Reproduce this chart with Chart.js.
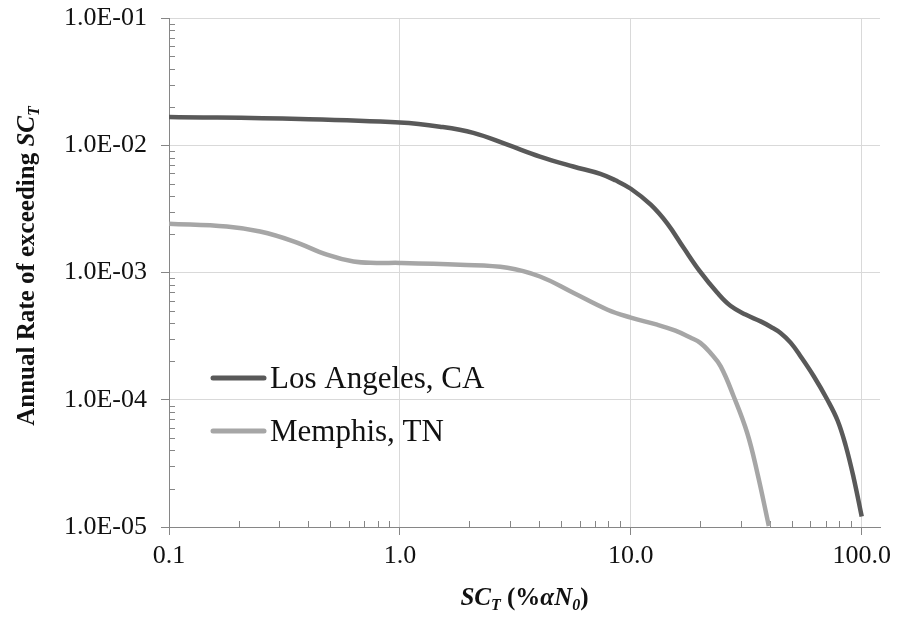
<!DOCTYPE html>
<html>
<head>
<meta charset="utf-8">
<script src="https://cdn.jsdelivr.net/npm/chart.js@4.4.1/dist/chart.umd.min.js"></script>
<style>
  html, body { margin: 0; padding: 0; background: #fff; }
</style>
</head>
<body>
<canvas id="hazardChart" width="899" height="617"></canvas>
<script>
const seriesNames = ['Los Angeles, CA', 'Memphis, TN'];

// Los Angeles, CA
const laX = [0.1, 0.37, 1.0, 1.49, 2.08, 2.92, 4.04, 5.63, 7.38, 8.58, 10.0, 12.2, 14.4, 16.9, 20.0, 23.7, 27.0, 31.4, 36.5, 40.3, 44.5, 49.2, 54.4, 62.0, 71.0, 78.6, 85.2, 92.2, 100.0];
const laY = [1.67e-2, 1.61e-2, 1.51e-2, 1.40e-2, 1.25e-2, 1.01e-2, 8.15e-3, 6.81e-3, 5.96e-3, 5.30e-3, 4.55e-3, 3.41e-3, 2.42e-3, 1.57e-3, 1.01e-3, 6.93e-4, 5.48e-4, 4.67e-4, 4.13e-4, 3.75e-4, 3.35e-4, 2.81e-4, 2.19e-4, 1.53e-4, 1.00e-4, 6.87e-5, 4.37e-5, 2.45e-5, 1.21e-5];

// Memphis, TN
const mmX = [0.1, 0.178, 0.248, 0.346, 0.483, 0.630, 0.794, 1.0, 1.82, 2.92, 4.04, 5.63, 7.93, 10.0, 13.0, 15.6, 18.1, 20.0, 22.1, 24.5, 27.9, 31.9, 35.3, 39.6];
const mmY = [2.42e-3, 2.30e-3, 2.10e-3, 1.76e-3, 1.38e-3, 1.22e-3, 1.19e-3, 1.19e-3, 1.15e-3, 1.09e-3, 9.3e-4, 6.93e-4, 5.10e-4, 4.42e-4, 3.89e-4, 3.49e-4, 3.08e-4, 2.80e-4, 2.34e-4, 1.83e-4, 1.06e-4, 5.5e-5, 2.67e-5, 1.02e-5];

const xTicks = [0.1, 1, 10, 100];
const xTickLabels = ['0.1', '1.0', '10.0', '100.0'];
const yTicks = [1e-5, 1e-4, 1e-3, 1e-2, 1e-1];
const yTickLabels = ['1.0E-05', '1.0E-04', '1.0E-03', '1.0E-02', '1.0E-01'];

const SERIF = "'Liberation Serif', 'Times New Roman', serif";
const AXIS_GRAY = '#868686';

function toPoints(xs, ys) {
    return xs.map((x, i) => ({ x: x, y: ys[i] }));
}

function drawRich(ctx, parts, x, y) {
    let total = 0;
    parts.forEach(p => {
        ctx.font = p.font;
        p.w = ctx.measureText(p.text).width;
        total += p.w;
    });
    let cx = x - total / 2;
    parts.forEach(p => {
        ctx.font = p.font;
        ctx.fillText(p.text, cx, y + (p.dy || 0));
        cx += p.w;
    });
}

const decorPlugin = {
    id: 'decor',
    beforeDatasetsDraw(chart) {
        const ctx = chart.ctx;
        const area = chart.chartArea;
        const xs = chart.scales.x, ys = chart.scales.y;
        ctx.save();
        ctx.strokeStyle = AXIS_GRAY;
        ctx.lineWidth = 1;
        ctx.beginPath();
        // minor ticks on the y axis (inside)
        yTicks.slice(0, -1).forEach(d => {
            for (let m = 2; m <= 9; m++) {
                const py = Math.round(ys.getPixelForValue(d * m)) + 0.5;
                ctx.moveTo(area.left, py);
                ctx.lineTo(area.left + 6, py);
            }
        });
        // minor ticks on the x axis (inside)
        xTicks.forEach(d => {
            for (let m = 2; m <= 9; m++) {
                if (d * m > xs.max) break;
                const px = Math.round(xs.getPixelForValue(d * m)) + 0.5;
                ctx.moveTo(px, area.bottom);
                ctx.lineTo(px, area.bottom - 6);
            }
        });
        ctx.stroke();
        ctx.restore();
    },
    afterDraw(chart) {
        const ctx = chart.ctx;
        const area = chart.chartArea;
        ctx.save();

        // legend inside plot
        const rows = [378, 431];
        chart.data.datasets.forEach((ds, i) => {
            const y = rows[i];
            ctx.strokeStyle = ds.borderColor;
            ctx.lineWidth = 5;
            ctx.lineCap = 'round';
            ctx.beginPath();
            ctx.moveTo(area.left + 44, y);
            ctx.lineTo(area.left + 95, y);
            ctx.stroke();
            ctx.fillStyle = '#111';
            ctx.font = '31px ' + SERIF;
            ctx.textAlign = 'left';
            ctx.textBaseline = 'alphabetic';
            ctx.fillText(ds.label, area.left + 101, y + 10);
        });

        // axis titles
        ctx.fillStyle = '#111';
        ctx.textAlign = 'left';
        ctx.textBaseline = 'alphabetic';
        const big = 'bold 25px ' + SERIF;
        const bigIt = 'bold italic 25px ' + SERIF;
        const sub = 'bold italic 16px ' + SERIF;

        drawRich(ctx, [
            { text: 'SC', font: bigIt },
            { text: 'T', font: sub, dy: 5 },
            { text: ' (%', font: big },
            { text: 'α', font: bigIt },
            { text: 'N', font: bigIt },
            { text: '0', font: sub, dy: 5 },
            { text: ')', font: big }
        ], (area.left + area.right) / 2, 605);

        ctx.save();
        ctx.translate(34, 266);
        ctx.rotate(-Math.PI / 2);
        drawRich(ctx, [
            { text: 'Annual Rate of exceeding ', font: big },
            { text: 'SC', font: bigIt },
            { text: 'T', font: sub, dy: 5 }
        ], 0, 0);
        ctx.restore();

        ctx.restore();
    }
};

const ctx = document.getElementById('hazardChart').getContext('2d');
const hazardChart = new Chart(ctx, {
    type: 'line',
    data: {
        datasets: [
            {
                label: seriesNames[0],
                data: toPoints(laX, laY),
                borderColor: '#595959',
                borderWidth: 4.5,
                pointRadius: 0,
                tension: 0.4,
                fill: false
            },
            {
                label: seriesNames[1],
                data: toPoints(mmX, mmY),
                borderColor: '#a6a6a6',
                borderWidth: 4.5,
                pointRadius: 0,
                tension: 0.4,
                fill: false
            }
        ]
    },
    options: {
        responsive: false,
        animation: false,
        layout: { padding: { top: 18, right: 19, left: 0, bottom: 0 } },
        plugins: {
            legend: { display: false },
            tooltip: { enabled: false }
        },
        scales: {
            x: {
                type: 'logarithmic',
                min: 0.1,
                max: 120,
                afterBuildTicks: scale => { scale.ticks = xTicks.map(v => ({ value: v })); },
                afterFit: scale => {
                    scale.height = 90;
                    scale.paddingLeft = 0;
                    scale.paddingRight = 0;
                },
                ticks: {
                    autoSkip: false,
                    maxRotation: 0,
                    padding: 6,
                    color: '#111',
                    font: { family: SERIF, size: 26 },
                    callback: (v, i) => xTickLabels[i]
                },
                grid: { color: '#d9d9d9', tickColor: AXIS_GRAY, tickLength: 8, lineWidth: 1 },
                border: { color: AXIS_GRAY, width: 1 }
            },
            y: {
                type: 'logarithmic',
                min: 1e-5,
                max: 1e-1,
                afterBuildTicks: scale => { scale.ticks = yTicks.map(v => ({ value: v })); },
                afterFit: scale => {
                    scale.width = 169;
                    scale.paddingTop = 0;
                    scale.paddingBottom = 0;
                },
                ticks: {
                    autoSkip: false,
                    padding: 14,
                    color: '#111',
                    font: { family: SERIF, size: 26 },
                    callback: (v, i) => yTickLabels[i]
                },
                grid: { color: '#d9d9d9', tickColor: AXIS_GRAY, tickLength: 8, lineWidth: 1 },
                border: { color: AXIS_GRAY, width: 1 }
            }
        }
    },
    plugins: [decorPlugin]
});
</script>
</body>
</html>
